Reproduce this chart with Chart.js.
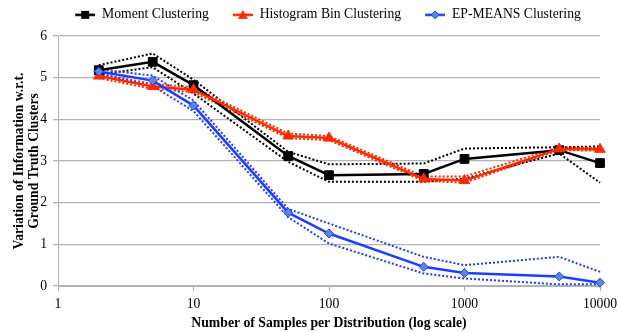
<html lang="en">
<head>
    <meta charset="UTF-8"/>
    <title>Variation of Information</title>
    <script src="https://cdn.jsdelivr.net/npm/chart.js@4.4.1/dist/chart.umd.min.js"></script>
    <style>
        html, body { margin: 0; padding: 0; background: #fff; }
        #wrap { width: 618px; height: 332px; }
    </style>
</head>
<body>
<div id="wrap"><canvas id="myChart" width="618" height="332"></canvas></div>
<script>
    // samples per distribution (x, log scale)
    const samples = [2, 5, 10, 50, 100, 500, 1000, 5000, 10000];
    const xTicks = [1, 10, 100, 1000, 10000];
    const yTicks = [0, 1, 2, 3, 4, 5, 6];

    const moment   = [5.18, 5.38, 4.82, 3.12, 2.66, 2.69, 3.05, 3.26, 2.95];
    const momentHi = [5.30, 5.58, 4.95, 3.22, 2.92, 2.94, 3.30, 3.33, 3.35];
    const momentLo = [5.08, 5.25, 4.62, 2.98, 2.50, 2.50, 2.58, 3.18, 2.48];

    const hist   = [5.04, 4.79, 4.71, 3.60, 3.55, 2.57, 2.53, 3.29, 3.28];
    const histHi = [5.09, 4.85, 4.77, 3.66, 3.60, 2.63, 2.63, 3.33, 3.31];
    const histLo = [4.99, 4.73, 4.65, 3.55, 3.50, 2.52, 2.48, 3.26, 3.25];

    const epm   = [5.15, 4.93, 4.33, 1.76, 1.26, 0.46, 0.31, 0.23, 0.08];
    const epmHi = [5.20, 5.05, 4.45, 1.85, 1.50, 0.70, 0.50, 0.70, 0.34];
    const epmLo = [5.10, 4.80, 4.20, 1.65, 1.02, 0.30, 0.18, 0.04, 0.04];

    const BLACK = '#000000', RED = '#ff2a00', BLUE = '#1f3dff', BLUE_FILL = '#5b87df';
    const FONT = "'Liberation Serif', 'DejaVu Serif', serif";
    const FS = 13.7;

    function pts(ys) {
        return samples.map((x, i) => ({x: x, y: ys[i]}));
    }

    // legend icon: short line with the marker on it (blank space on the left)
    function icon(color, fill, style) {
        const c = document.createElement('canvas');
        c.width = 36; c.height = 12;
        const g = c.getContext('2d');
        g.strokeStyle = color; g.lineWidth = 2.5;
        g.beginPath(); g.moveTo(16, 6); g.lineTo(36, 6); g.stroke();
        g.fillStyle = fill;
        const m = 26;
        if (style === 'rect') {
            g.fillRect(m - 4, 2, 8, 8);
        } else if (style === 'triangle') {
            g.beginPath(); g.moveTo(m, 1); g.lineTo(m + 5, 10); g.lineTo(m - 5, 10); g.closePath(); g.fill();
        } else {
            g.beginPath(); g.moveTo(m, 2); g.lineTo(m + 4, 6); g.lineTo(m, 10); g.lineTo(m - 4, 6); g.closePath();
            g.fill(); g.strokeStyle = color; g.lineWidth = 1; g.stroke();
        }
        return c;
    }

    function mainSet(label, ys, color, fill, style, radius, order) {
        return {
            label: label, data: pts(ys),
            borderColor: color, backgroundColor: fill,
            borderWidth: 2.5, pointStyle: style, pointRadius: radius,
            pointBorderColor: color, pointBackgroundColor: fill, pointBorderWidth: 1,
            legendIcon: icon(color, fill, style),
            clip: false, order: order
        };
    }

    function bandSet(ys, color, order) {
        return {
            label: '', data: pts(ys), band: true,
            borderColor: color, borderWidth: 2, borderDash: [2, 2],
            pointRadius: 0, fill: false, clip: false, order: order
        };
    }

    const datasets = [
        mainSet('Moment Clustering', moment, BLACK, BLACK, 'rect', 6.2, 3),
        mainSet('Histogram Bin Clustering', hist, RED, RED, 'triangle', 6, 2),
        mainSet('EP-MEANS Clustering', epm, BLUE, BLUE_FILL, 'rectRot', 4.5, 1),
        bandSet(momentHi, BLACK, 6), bandSet(momentLo, BLACK, 6),
        bandSet(histHi, RED, 5), bandSet(histLo, RED, 5),
        bandSet(epmHi, BLUE, 4), bandSet(epmLo, BLUE, 4)
    ];

    // fixed legend height so the plot starts where the original does,
    // and the legend sits a little right of centre like the original
    const legendHeight = {
        id: 'legendHeight',
        beforeInit(chart) {
            const fit = chart.legend.fit;
            chart.legend.fit = function () {
                fit.bind(chart.legend)();
                this.height = 36;
            };
        },
        afterLayout(chart) {
            chart.legend.left += 20;
            chart.legend.right += 20;
        }
    };

    Chart.defaults.font.family = FONT;
    Chart.defaults.color = '#000';

    new Chart(document.getElementById('myChart').getContext('2d'), {
        type: 'line',
        data: {datasets: datasets},
        plugins: [legendHeight],
        options: {
            responsive: false,
            animation: false,
            layout: {padding: {right: 18, top: 0}},
            plugins: {
                tooltip: {enabled: false},
                legend: {
                    position: 'top',
                    labels: {
                        usePointStyle: true,
                        pointStyleWidth: 36,
                        font: {size: FS},
                        padding: 8,
                        boxHeight: 12,
                        filter: (item, data) => !data.datasets[item.datasetIndex].band,
                        generateLabels: (chart) => chart.data.datasets.map((d, i) => ({
                            text: d.label,
                            pointStyle: d.legendIcon,
                            datasetIndex: i,
                            fillStyle: d.borderColor,
                            strokeStyle: d.borderColor,
                            lineWidth: 0,
                            hidden: false
                        }))
                    }
                }
            },
            scales: {
                x: {
                    type: 'logarithmic',
                    min: 1, max: 10000,
                    afterBuildTicks: (s) => { s.ticks = xTicks.map(v => ({value: v})); },
                    afterFit: (s) => { s.height = 46; s.paddingRight = 0; },
                    ticks: {
                        font: {size: FS},
                        padding: 5,
                        maxRotation: 0,
                        callback: (v) => String(v)
                    },
                    grid: {drawOnChartArea: false, color: '#b0b0b0', tickLength: 5},
                    border: {color: '#b0b0b0', width: 1},
                    title: {
                        display: true,
                        text: 'Number of Samples per Distribution (log scale)',
                        font: {size: FS, weight: 'bold'},
                        padding: {top: 0, bottom: 0}
                    }
                },
                y: {
                    min: 0, max: 6,
                    afterBuildTicks: (s) => { s.ticks = yTicks.map(v => ({value: v})); },
                    afterFit: (s) => { s.width = 58; },
                    ticks: {font: {size: FS}, padding: 6},
                    grid: {color: '#b3b3b3', lineWidth: 1.3, tickLength: 5},
                    border: {color: '#b0b0b0', width: 1},
                    title: {
                        display: true,
                        text: ['Variation of Information w.r.t.', 'Ground Truth Clusters'],
                        font: {size: FS, weight: 'bold', lineHeight: 1.1},
                        padding: {top: 12, bottom: 0}
                    }
                }
            }
        }
    });
</script>
</body>
</html>
